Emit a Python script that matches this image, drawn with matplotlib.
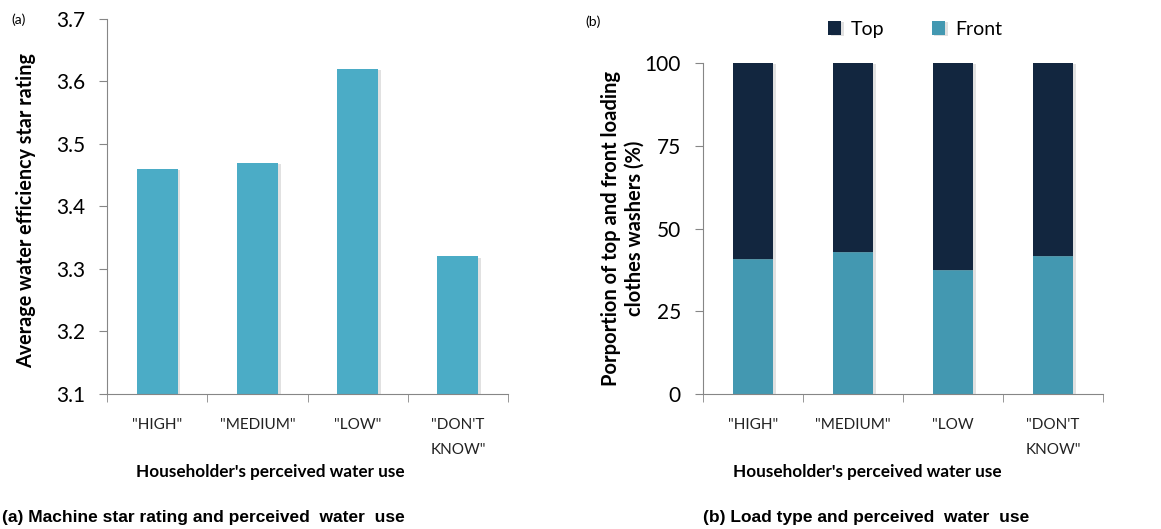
import matplotlib.pyplot as plt
import matplotlib.patheffects as pe
import numpy as np

categories = ['"HIGH"', '"MEDIUM"', '"LOW"', '"DON\'T\nKNOW"']
categories_b = ['"HIGH"', '"MEDIUM"', '"LOW', '"DON\'T\nKNOW"']
star_rating = [3.46, 3.47, 3.62, 3.32]
front_pct = [40.9, 42.9, 37.6, 41.7]
top_pct = [100 - f for f in front_pct]

plt.rcParams['font.family'] = ['Lato', 'DejaVu Sans']

grey = '#868686'
shadow = [pe.SimplePatchShadow(offset=(2, -1), shadow_rgbFace='#888888', alpha=0.25), pe.Normal()]

fig = plt.figure(figsize=(11.61, 5.29), dpi=100)
ax1 = fig.add_axes([0.0922, 0.2552, 0.3454, 0.7089])
ax2 = fig.add_axes([0.6055, 0.2552, 0.3445, 0.6257])

x = np.arange(len(categories))


def style(ax, labels):
    for s in ['top', 'right']:
        ax.spines[s].set_visible(False)
    for s in ['left', 'bottom']:
        ax.spines[s].set_color(grey)
    ax.set_xlim(-0.5, len(labels) - 0.5)
    ax.set_xticks(x)
    ax.set_xticklabels(labels, fontsize=11, color='#222222', linespacing=2.0)
    ax.set_xticks(np.arange(len(labels) + 1) - 0.5, minor=True)
    ax.tick_params(axis='x', which='major', length=0, pad=17)
    ax.tick_params(axis='x', which='minor', length=6, color=grey)
    ax.tick_params(axis='y', length=6, color=grey, labelsize=15, pad=10)
    ax.set_xlabel("Householder's perceived water use", fontsize=12.3, fontweight='bold')


# (a) star rating
bars = ax1.bar(x, [v - 3.1 for v in star_rating], bottom=3.1, width=0.41, color='#4BACC6')
for b in bars:
    b.set_path_effects(shadow)
ax1.set_ylim(3.1, 3.7)
ax1.set_yticks([3.1, 3.2, 3.3, 3.4, 3.5, 3.6, 3.7])
ax1.set_yticklabels(['3.1', '3.2', '3.3', '3.4', '3.5', '3.6', '3.7'])
style(ax1, categories)
ax1.set_ylabel('Average water efficiency star rating', fontsize=14.2, fontweight='bold')
ax1.yaxis.set_label_coords(-0.177, 0.49)
ax1.xaxis.set_label_coords(0.406, -0.187)

# (b) load type
b1 = ax2.bar(x, front_pct, width=0.4, color='#4398B1', label='Front')
b2 = ax2.bar(x, top_pct, bottom=front_pct, width=0.4, color='#12263F', label='Top')
for b in list(b1) + list(b2):
    b.set_path_effects(shadow)
ax2.set_ylim(0, 100)
ax2.set_yticks([0, 25, 50, 75, 100])
style(ax2, categories_b)
ax2.set_ylabel('Porportion of top and front loading\nclothes washers (%)', fontsize=14.5,
               fontweight='bold', linespacing=1.25)
ax2.yaxis.set_label_coords(-0.145, 0.5)
ax2.xaxis.set_label_coords(0.41, -0.211)
ax2.legend([b2, b1], ['Top', 'Front'], ncol=2, frameon=False, fontsize=14,
           loc='center', bbox_to_anchor=(0.788, 0.945), bbox_transform=fig.transFigure,
           handlelength=0.7, handleheight=0.7, columnspacing=2.4, handletextpad=0.5)

fig.text(0.010, 0.962, '(a)', fontsize=10, va='center')
fig.text(0.504, 0.958, '(b)', fontsize=10, va='center')

cap_font = ['Liberation Sans Narrow', 'Liberation Sans', 'DejaVu Sans']
fig.text(0.002, 0.022, '(a) Machine star rating and perceived  water  use', fontsize=12.5,
         fontweight='bold', family=cap_font, va='center')
fig.text(0.6055, 0.022, '(b) Load type and perceived  water  use', fontsize=12.5,
         fontweight='bold', family=cap_font, va='center')

fig.savefig('out.png', dpi=100)
